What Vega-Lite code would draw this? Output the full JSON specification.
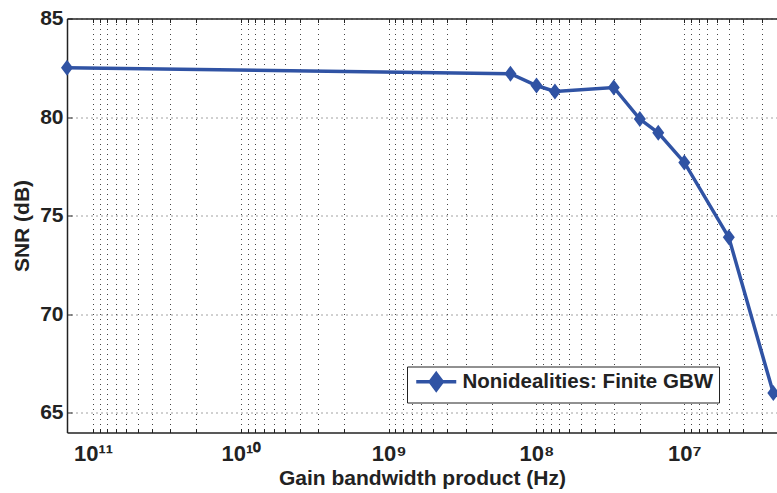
{
  "$schema": "https://vega.github.io/schema/vega-lite/v6.json",
  "width": 710,
  "height": 414,
  "autosize": "none",
  "padding": {"left": 67, "top": 18.5, "right": 0, "bottom": 60.5},
  "background": "white",
  "config": {"view": {"stroke": null}, "font": "Liberation Sans"},
  "data": {
    "values": [
      {"gbw": 1.5e11, "snr": 82.5},
      {"gbw": 1.5e8, "snr": 82.2},
      {"gbw": 1e8, "snr": 81.6},
      {"gbw": 7.5e7, "snr": 81.3},
      {"gbw": 3e7, "snr": 81.5},
      {"gbw": 2e7, "snr": 79.9},
      {"gbw": 1.5e7, "snr": 79.2},
      {"gbw": 1e7, "snr": 77.7},
      {"gbw": 5e6, "snr": 73.9},
      {"gbw": 2.5e6, "snr": 66.0}
    ]
  },
  "layer": [
    {
      "mark": {"type": "line", "strokeWidth": 3.5, "clip": false},
      "encoding": {
        "x": {
          "field": "gbw", "type": "quantitative",
          "scale": {"type": "log", "domain": [2.36e6, 1.5e11], "reverse": true, "nice": false},
          "title": "Gain bandwidth product (Hz)",
          "axis": {
            "orient": "bottom",
            "values": [3e6,4e6,5e6,6e6,7e6,8e6,9e6,1e7,2e7,3e7,4e7,5e7,6e7,7e7,8e7,9e7,1e8,2e8,3e8,4e8,5e8,6e8,7e8,8e8,9e8,1e9,2e9,3e9,4e9,5e9,6e9,7e9,8e9,9e9,1e10,2e10,3e10,4e10,5e10,6e10,7e10,8e10,9e10,1e11],
            "labelExpr": "datum.value == 1e11 ? '10¹¹' : datum.value == 1e10 ? '10¹⁰' : datum.value == 1e9 ? '10⁹' : datum.value == 1e8 ? '10⁸' : datum.value == 1e7 ? '10⁷' : ''",
            "labelFont": "Liberation Sans", "labelFontSize": 22, "labelFontWeight": "bold", "labelColor": "#222",
            "labelPadding": 15, "labelFlush": false, "labelOverlap": false,
            "tickSize": -4, "tickColor": "#222", "tickWidth": 1,
            "domainColor": "#222", "domainWidth": 1.5,
            "grid": true, "gridColor": "#444", "gridDash": [1, 4], "gridWidth": 1,
            "titleFont": "Liberation Sans", "titleFontSize": 21, "titleFontWeight": "bold", "titleColor": "#222", "titlePadding": 3
          }
        },
        "y": {
          "field": "snr", "type": "quantitative",
          "scale": {"domain": [64, 85], "nice": false, "zero": false},
          "title": "SNR (dB)",
          "axis": {
            "values": [65, 70, 75, 80, 85],
            "labelFont": "Liberation Sans", "labelFontSize": 21, "labelFontWeight": "bold", "labelColor": "#222",
            "labelPadding": 9,
            "tickSize": -5, "tickColor": "#222",
            "domainColor": "#222", "domainWidth": 1.5,
            "grid": true, "gridColor": "#444", "gridDash": [1, 4], "gridWidth": 1,
            "titleFont": "Liberation Sans", "titleFontSize": 21, "titleFontWeight": "bold", "titleColor": "#222", "titlePadding": 7
          }
        },
        "color": {
          "datum": "Nonidealities: Finite GBW", "type": "nominal",
          "scale": {"range": ["#3053a4"]},
          "legend": {
            "orient": "none", "legendX": 340, "legendY": 348, "title": null,
            "padding": 5, "strokeColor": "#222", "fillColor": "white", "cornerRadius": 0,
            "symbolType": "M-2.5,0H2.5M0,-1L0.75,0L0,1L-0.75,0Z",
            "symbolSize": 256, "symbolStrokeWidth": 3.5,
            "symbolFillColor": "#3053a4", "symbolStrokeColor": "#3053a4",
            "symbolOffset": 14, "labelOffset": 16,
            "labelFont": "Liberation Sans", "labelFontSize": 20.5, "labelFontWeight": "bold", "labelColor": "#222", "labelLimit": 0
          }
        }
      }
    },
    {
      "mark": {"type": "point", "shape": "M0,-1L0.75,0L0,1L-0.75,0Z", "filled": true, "size": 256, "color": "#3053a4", "opacity": 1, "clip": false},
      "encoding": {
        "x": {
          "field": "gbw", "type": "quantitative",
          "axis": {
            "orient": "top", "title": null, "labels": false, "grid": false,
            "values": [3e6,4e6,5e6,6e6,7e6,8e6,9e6,1e7,2e7,3e7,4e7,5e7,6e7,7e7,8e7,9e7,1e8,2e8,3e8,4e8,5e8,6e8,7e8,8e8,9e8,1e9,2e9,3e9,4e9,5e9,6e9,7e9,8e9,9e9,1e10,2e10,3e10,4e10,5e10,6e10,7e10,8e10,9e10,1e11],
            "tickSize": -4, "tickColor": "#222", "domainColor": "#222", "domainWidth": 1.5
          }
        },
        "y": {"field": "snr", "type": "quantitative", "axis": null}
      }
    }
  ],
  "resolve": {"axis": {"x": "independent", "y": "independent"}}
}
